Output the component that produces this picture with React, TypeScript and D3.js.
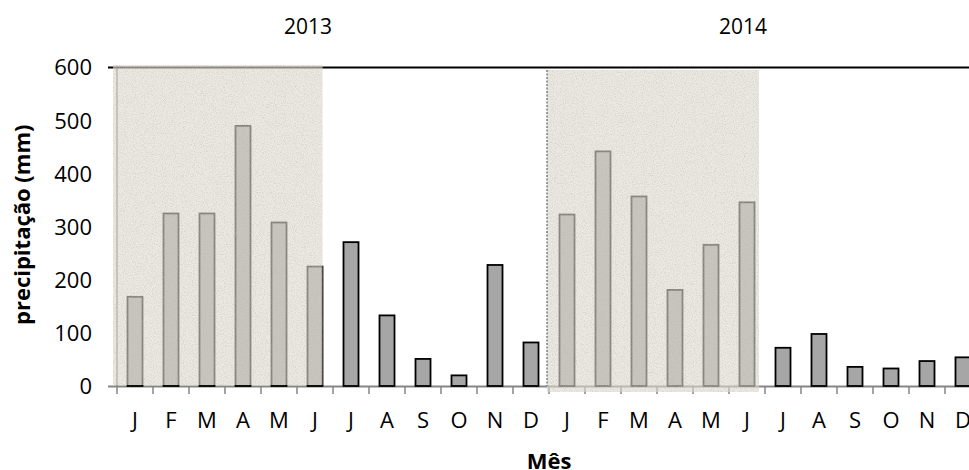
import React from "react";
import * as d3 from "d3";

const months = ["J", "F", "M", "A", "M", "J", "J", "A", "S", "O", "N", "D", "J", "F", "M", "A", "M", "J", "J", "A", "S", "O", "N", "D"];
const precip2013 = [168, 325, 325, 490, 308, 225, 271, 133, 51, 20, 228, 82];
const precip2014 = [323, 442, 357, 181, 266, 346, 72, 98, 36, 33, 47, 54];
const years = ["2013", "2014"];
const yTicks = [0, 100, 200, 300, 400, 500, 600];

const W = 969;
const H = 470;
const FONT = "'Open Sans', 'Noto Sans', sans-serif";

export default function App() {
  const values = [...precip2013, ...precip2014];
  const idx = values.map((_, i) => i);
  const left = 117;
  const right = 981;
  const top = 67.5;
  const bottom = 386;

  const x = d3
    .scaleBand<number>()
    .domain(idx)
    .range([left, right])
    .paddingInner(0.583)
    .paddingOuter(0.2917);
  const y = d3.scaleLinear().domain([0, 600]).range([bottom, top]);
  const step = x.step();
  const bw = x.bandwidth();
  const boundary = (i: number) => (x(i) as number) - (step * x.paddingInner()) / 2;
  const boundaries = d3.range(25).map((i) => left + i * step);

  const shade13 = { x0: boundary(0) - 4, x1: (x(5) as number) + bw, y0: y(600) - 2.5, y1: y(0) - 1 };
  const shade14 = { x0: boundary(12) - 2, x1: boundary(18) - 6, y0: y(600) + 2.5, y1: y(0) + 6 };
  const yearX = [308, 743];

  return (
    <svg
      width={W}
      height={H}
      style={{ position: "absolute", left: 0, top: 0, background: "#fff" }}
      fontFamily={FONT}
    >
      <defs>
        <filter id="grain" x="0" y="0" width="100%" height="100%">
          <feTurbulence type="fractalNoise" baseFrequency="0.9" numOctaves="2" seed="3" result="n" />
          <feColorMatrix
            in="n"
            type="matrix"
            values="0 0 0 0 0.45  0 0 0 0 0.43  0 0 0 0 0.40  0 0 0 -1.6 0.95"
            result="dots"
          />
          <feComposite in="dots" in2="SourceGraphic" operator="in" result="d2" />
          <feMerge>
            <feMergeNode in="SourceGraphic" />
            <feMergeNode in="d2" />
          </feMerge>
        </filter>
      </defs>

      {/* y axis line */}
      <line x1={left} x2={left} y1={y(600)} y2={y(0)} stroke="#868686" strokeWidth={1.5} />

      {/* top line at 600 */}
      <line x1={left - 9} x2={W} y1={y(600)} y2={y(600)} stroke="#000" strokeWidth={2} />

      {/* x axis */}
      <line x1={left - 9} x2={W} y1={y(0) + 0.5} y2={y(0) + 0.5} stroke="#868686" strokeWidth={2} />
      {boundaries.map((b, i) => (
        <line key={"t" + i} x1={b} x2={b} y1={y(0)} y2={y(0) + 8} stroke="#868686" strokeWidth={1.5} />
      ))}

      {/* bars */}
      {values.map((v, i) => (
        <rect
          key={"b" + i}
          x={x(i)}
          y={y(v)}
          width={bw}
          height={y(0) - y(v)}
          fill="#a6a6a6"
          stroke="#000"
          strokeWidth={1.8}
        />
      ))}

      {/* wet season shading */}
      {[shade13, shade14].map((s, i) => (
        <rect
          key={"s" + i}
          x={s.x0}
          y={s.y0}
          width={s.x1 - s.x0}
          height={s.y1 - s.y0}
          fill="rgb(224,218,206)"
          fillOpacity={0.6}
          filter="url(#grain)"
        />
      ))}

      {/* dashed separator */}
      <line
        x1={shade14.x0}
        x2={shade14.x0}
        y1={shade14.y0}
        y2={y(0)}
        stroke="#444"
        strokeWidth={1}
        strokeDasharray="2,1.5"
      />

      {/* y tick labels */}
      {yTicks.map((t) => (
        <text key={"y" + t} x={92} y={y(t)} dy="0.36em" textAnchor="end" fontSize={22} fill="#000">
          {t}
        </text>
      ))}

      {/* month labels */}
      {months.map((m, i) => (
        <text key={"m" + i} x={(x(i) as number) + bw / 2} y={428} textAnchor="middle" fontSize={22} fill="#000">
          {m}
        </text>
      ))}

      {/* year labels */}
      {years.map((yr, i) => (
        <text key={yr} x={yearX[i]} y={34} textAnchor="middle" fontSize={21} fill="#000">
          {yr}
        </text>
      ))}

      {/* axis titles */}
      <text x={(left + right) / 2} y={469} textAnchor="middle" fontSize={22} fontWeight="bold" fill="#000">
        Mês
      </text>
      <text
        transform={`translate(30,${(top + bottom) / 2 - 2}) rotate(-90)`}
        textAnchor="middle"
        fontSize={22}
        fontWeight="bold"
        fill="#000"
      >
        precipitação (mm)
      </text>
    </svg>
  );
}
